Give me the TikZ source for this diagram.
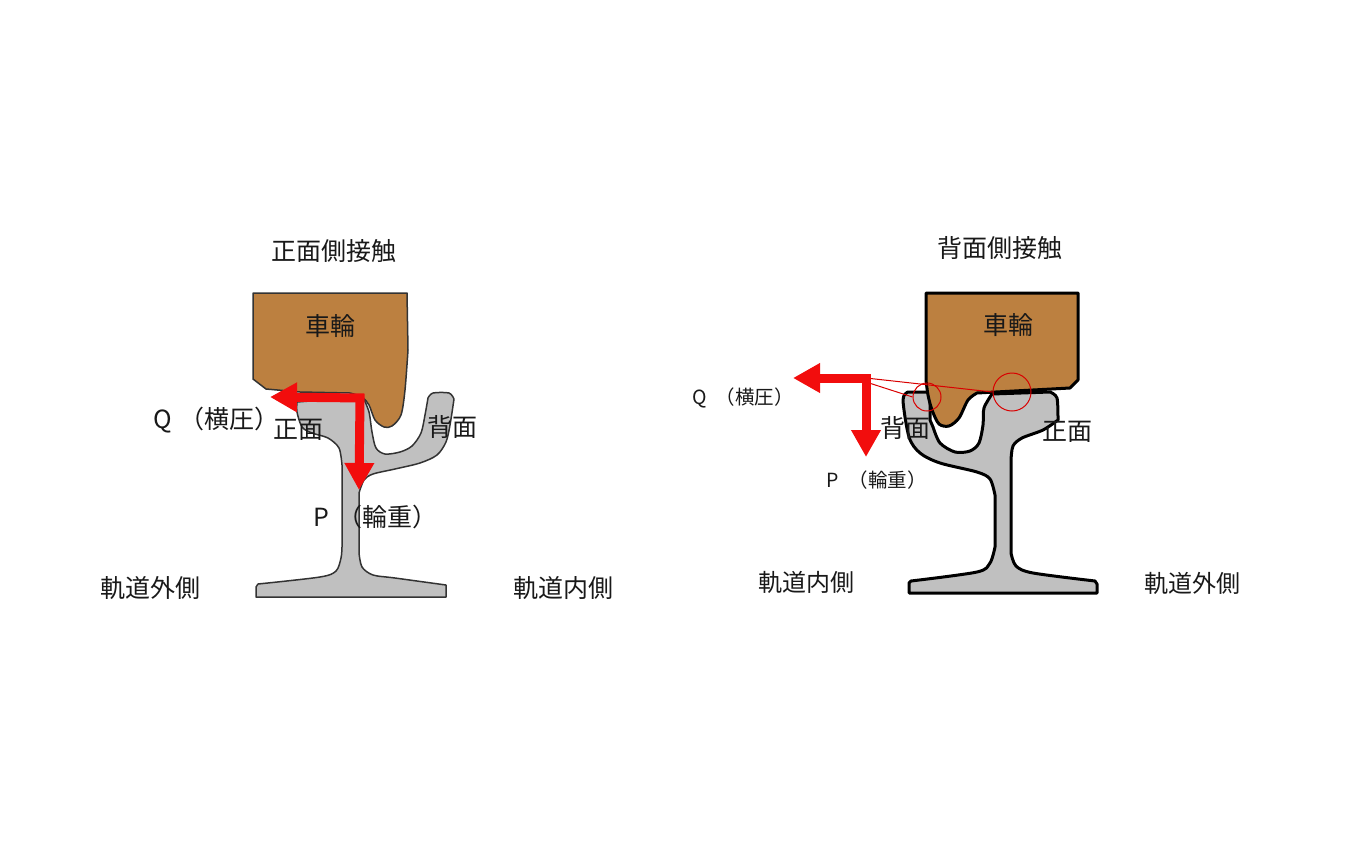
\documentclass[tikz,border=0pt]{standalone}
\usepackage{fontspec}
\setmainfont{Noto Sans CJK JP}
\usetikzlibrary{arrows.meta}
\definecolor{wheelc}{HTML}{BC8040}
\definecolor{railc}{HTML}{C0C0C0}
\definecolor{redc}{HTML}{F20D0D}
\tikzset{
 lbl/.style={inner sep=0pt,font=\fontsize{25}{25}\selectfont,text=black!90},
 lblm/.style={inner sep=0pt,font=\fontsize{24}{24}\selectfont,text=black!90},
 lbls/.style={inner sep=0pt,font=\fontsize{19.5}{20}\selectfont,text=black!90},
 wheelL/.style={fill=wheelc,draw=black!80,line width=1.5pt,line join=round},
 railL/.style={fill=railc,draw=black!80,line width=1.5pt,line join=round},
 wheelR/.style={fill=wheelc,draw=black,line width=3pt,line join=round},
 railR/.style={fill=railc,draw=black,line width=3pt,line join=round},
 force/.style={draw=redc,line width=9pt,-{Triangle[length=27pt,width=28pt]}},
 thin red/.style={draw=red!85!black,line width=1pt},
}
\begin{document}
\begin{tikzpicture}[x=1pt,y=-1pt]
\useasboundingbox (0,0) rectangle (1350,844);
% ===== left rail
\path[railL] (297,402)
  -- (363,397)
  -- plot[smooth,tension=.5] coordinates {(363,397) (369,412) (372,432) (376,448) (385,454) (400,452) (412,446) (421,433) (425,415) (428,398)}
  -- plot[smooth,tension=.5] coordinates {(428,398) (433,393) (449,393) (454,399)}
  -- plot[smooth,tension=.5] coordinates {(454,399) (450,425) (446,442) (437,455) (420,463) (395,469) (373,474) (364,480) (359,493)}
  -- (359,553)
  -- plot[smooth,tension=.5] coordinates {(359,553) (362,567) (373,575) (395,578) (446,585)}
  -- (446,597) -- (256,597) -- (256,587) -- (258,584)
  -- plot[smooth,tension=.5] coordinates {(258,584) (320,577) (336,571) (341,558) (342,547)}
  -- (342,465)
  -- plot[smooth,tension=.5] coordinates {(342,465) (339,448) (328,438) (312,433) (302,427) (297,412) (297,402)}
  -- cycle;
% ===== left wheel
\path[wheelL] (253,293) -- (407,293) -- (408,350)
  -- plot[smooth,tension=.5] coordinates {(408,350) (405,390) (401,415) (392,426) (384,427) (375,420) (369,405) (362,397) (350,393)}
  -- (300,392)
  -- (266,389) -- (253,379) -- cycle;
\node[lbl] (wheelA) at (330,326) {車輪};
% ===== left labels
\node[lbl] (titleA) at (334,251) {正面側接触};
\node[lbl] (frontA) at (298,430) {正面};
\node[lbl] (backA) at (452,427) {背面};
\node[lbl] (outA) at (150,588) {軌道外側};
\node[lbl] (inA) at (563,588) {軌道内側};
\node[lbl,anchor=west] (qA) at (153,420) {Q\hspace{8pt}（横圧）};
\node[lbl,anchor=west] (pA) at (313,517) {P\hspace{8pt}（輪重）};
% ===== left forces
\coordinate (cornerA) at (360,398);
\coordinate (qtipA) at (270,397);
\coordinate (ptipA) at (359,490);
\draw[force] ([xshift=4.5pt]cornerA) -- (qtipA);
\draw[force] (cornerA) -- (ptipA);
% ===== right rail
\path[railR] (908,392) -- (930,392) -- (930,420)
  -- plot[smooth,tension=.5] coordinates {(933,427) (940,443) (955,452) (970,451) (979,443) (983,425) (984,408) (992,394)}
  -- (1050,392)
  -- plot[smooth,tension=.5] coordinates {(1050,392) (1057,398) (1058,420)}
  -- plot[smooth,tension=.5] coordinates {(1058,420) (1043,430) (1022,438) (1013,446) (1011,460)}
  -- (1011,553)
  -- plot[smooth,tension=.5] coordinates {(1011,553) (1016,566) (1033,573) (1095,581)}
  -- (1097,584) -- (1097,593) -- (909,593) -- (909,583) -- (911,581)
  -- plot[smooth,tension=.5] coordinates {(911,581) (977,572) (990,563) (995,547)}
  -- (995,495)
  -- plot[smooth,tension=.5] coordinates {(995,495) (990,479) (977,472) (940,463) (920,453) (909,437) (903,400) (908,392)}
  -- cycle;
% ===== right wheel
\path[wheelR] (926,293) -- (1078,293) -- (1078,380)
  -- (1070,388) -- (977,393)
  -- plot[smooth,tension=.5] coordinates {(977,393) (968,400) (959,418) (949,426) (939,424) (932,410) (928,395) (926,380)}
  -- cycle;
\node[lbl] (wheelB) at (1008,325) {車輪};
% ===== right labels
\node[lbl] (titleB) at (1000,248) {背面側接触};
\node[lbl] (backB) at (905,428) {背面};
\node[lbl] (frontB) at (1067,432) {正面};
\node[lblm] (inB) at (806,582) {軌道内側};
\node[lblm] (outB) at (1192,583) {軌道外側};
\node[lbls,anchor=west] (qB) at (692,398) {Q\hspace{9pt}（横圧）};
\node[lbls,anchor=west] (pB) at (826,480) {P\hspace{10pt}（輪重）};
% ===== right contact marks
\node[thin red,circle,minimum size=38pt,inner sep=0pt] (bigC) at (1012,392) {};
\node[thin red,circle,minimum size=28pt,inner sep=0pt] (smallC) at (927,397) {};
\coordinate (cornerB) at (866,378);
\coordinate (qtipB) at (793,378);
\coordinate (ptipB) at (866,457);
\draw[thin red] (cornerB) -- (bigC.west);
\draw[thin red] (cornerB) ++(0,4) -- (smallC.west);
\draw[force] ([xshift=4.5pt]cornerB) -- (qtipB);
\draw[force] (cornerB) -- (ptipB);
\end{tikzpicture}
\end{document}
